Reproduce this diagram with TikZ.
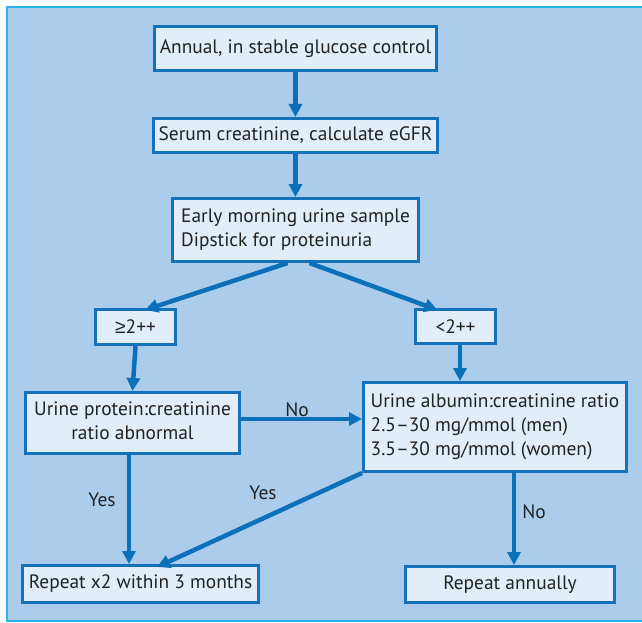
\documentclass[tikz,border=0pt]{standalone}
\usepackage{fontspec}
\setmainfont{PT Sans}
\newfontfamily\symfont{Liberation Sans}
\usetikzlibrary{arrows.meta,calc}
\definecolor{bgblue}{HTML}{ABCDEB}
\definecolor{framecyan}{HTML}{2AB4E6}
\definecolor{boxfill}{HTML}{E1EDF9}
\definecolor{boxline}{HTML}{1471BA}
\definecolor{arrowblue}{HTML}{0B70BA}
\definecolor{txt}{HTML}{222222}
\tikzset{
  box/.style={draw=boxline, line width=3pt, fill=boxfill, inner sep=0pt,
    text=txt, font=\fontsize{19.4}{24}\selectfont},
  conn/.style={draw=arrowblue, line width=4.5pt,
    -{Triangle[length=13pt,width=13pt]}},
  lbl/.style={text=txt, font=\fontsize{19.4}{24}\selectfont, inner sep=0pt}
}
\begin{document}
\begin{tikzpicture}[x=1pt,y=-1pt]
\useasboundingbox (0,0) rectangle (642,623);
\fill[bgblue] (7,7) rectangle (650,621);
\draw[framecyan, line width=2pt] (650,7) -- (7,7) -- (7,621) -- (650,621);

\node[box, minimum width=282pt, minimum height=44pt] (b1) at (295.5,48.5) {Annual, in stable glucose control};
\node[box, minimum width=284pt, minimum height=34pt] (b2) at (295.5,135.5) {Serum creatinine, calculate eGFR};
\node[box, minimum width=246pt, minimum height=63pt] (b3) at (295.5,230)
  {\begin{tabular}{@{}l@{}}Early morning urine sample\\ Dipstick for proteinuria\end{tabular}};
\node[box, minimum width=80pt, minimum height=35pt] (ge) at (135.5,327) {{\symfont ≥}2++};
\node[box, minimum width=80pt, minimum height=34pt] (lt) at (455.5,326.5) {<2++};
\node[box, minimum width=214pt, minimum height=61pt] (upc) at (132.5,423)
  {\begin{tabular}{@{}c@{}}Urine protein:creatinine\\ ratio abnormal\end{tabular}};
\node[box, minimum width=263pt, minimum height=89pt] (uacr) at (495,427)
  {\begin{tabular}{@{}l@{}}Urine albumin:creatinine ratio\\ 2.5–30 mg/mmol (men)\\ 3.5–30 mg/mmol (women)\end{tabular}};
\node[box, minimum width=236pt, minimum height=37pt] (rep2) at (140.5,584) {Repeat x2 within 3 months};
\node[box, minimum width=209pt, minimum height=36pt] (rann) at (510,584.5) {Repeat annually};

\draw[conn] (b1.south) -- (b2.north);
\draw[conn] (b2.south) -- (b3.north);
\draw[conn] ([xshift=-8pt]b3.south) -- ([xshift=9.5pt,yshift=-2pt]ge.north);
\draw[conn] ([xshift=14pt]b3.south) -- ([xshift=-18pt,yshift=-2pt]lt.north);
\draw[conn] (ge.south) -- (upc.north);
\draw[conn] ([xshift=4.5pt]lt.south) -- ([xshift=4.5pt]lt.south |- uacr.north);
\draw[conn] ([yshift=4pt]upc.east) -- ([yshift=4pt]upc.east -| uacr.west);
\draw[conn] ([xshift=-3.5pt]upc.south) -- ([xshift=-3.5pt]upc.south |- rep2.north);
\draw[conn] (uacr.south west) -- ([xshift=16.5pt,yshift=-3pt]rep2.north);
\draw[conn] ([xshift=4pt]rann.north |- uacr.south) -- ([xshift=4pt]rann.north);

\node[lbl] (lno1) at (297,410) {No};
\node[lbl] (lyes1) at (102,500) {Yes};
\node[lbl] (lyes2) at (263,493) {Yes};
\node[lbl] (lno2) at (534,512) {No};
\end{tikzpicture}
\end{document}
